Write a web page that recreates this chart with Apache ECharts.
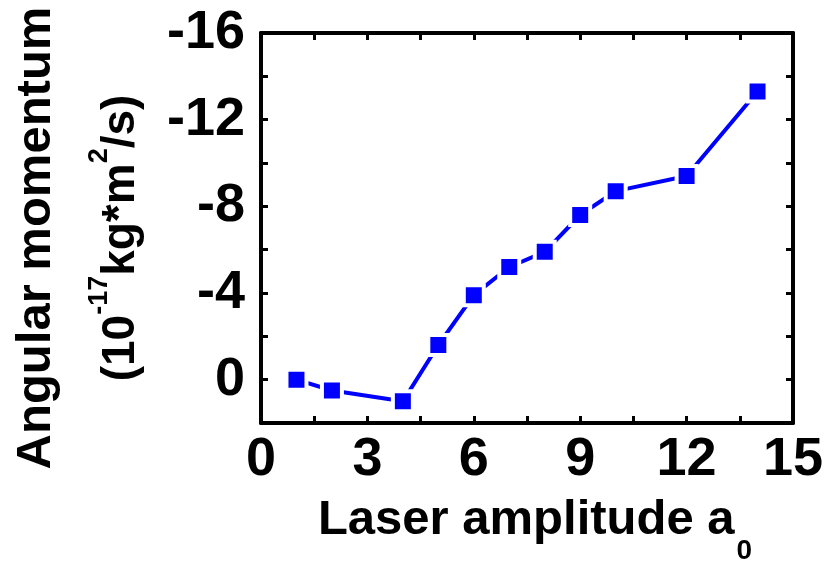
<!DOCTYPE html>
<html>
<head>
<meta charset="utf-8">
<script src="https://cdn.jsdelivr.net/npm/echarts@6/dist/echarts.min.js"></script>
<style>
  html, body { margin: 0; padding: 0; background: #fff; }
  #main { width: 827px; height: 562px; }
</style>
</head>
<body>
<div id="main"></div>
<script>
// laser amplitude a0 and angular momentum (10^-17 kg*m^2/s)
let amplitude = [1, 2, 4, 5, 6, 7, 8, 9, 10, 12, 14]
let momentum = [0, 0.5, 1.0, -1.6, -3.9, -5.2, -5.9, -7.6, -8.7, -9.4, -13.3]
let xTicks = [0, 3, 6, 9, 12, 15]
let yTicks = [-16, -12, -8, -4, 0]

let font = 'Liberation Sans'
let points = amplitude.map((a, i) => [a, momentum[i]])

let tickStyle = { show: true, inside: true, length: 7, lineStyle: { color: '#000', width: 3 } }
let lineStyle = { show: true, onZero: false, lineStyle: { color: '#000', width: 4 } }

let chart = echarts.init(document.getElementById('main'))
chart.setOption({
  animation: false,
  backgroundColor: '#fff',
  grid: { left: 261, right: 34, top: 33, bottom: 139, outerBoundsMode: 'none' },
  xAxis: [
    {
      type: 'value', min: 0, max: 15, interval: 1.5,
      axisLine: lineStyle, axisTick: tickStyle, splitLine: { show: false },
      axisLabel: {
        margin: 10, color: '#000', fontSize: 54, fontWeight: 'bold', fontFamily: font,
        formatter: v => xTicks.includes(v) ? String(v) : ''
      },
      name: '{m|Laser amplitude a}{b|0}',
      nameLocation: 'middle', nameGap: 73,
      nameTextStyle: {
        padding: [0, 0, 0, 16],
        rich: {
          m: { fontSize: 49, fontWeight: 'bold', fontFamily: font, color: '#000', verticalAlign: 'top' },
          b: { fontSize: 28, fontWeight: 'bold', fontFamily: font, color: '#000', verticalAlign: 'top', padding: [41, 0, 0, 2] }
        }
      }
    },
    {
      type: 'value', position: 'top', min: 0, max: 15, interval: 1.5,
      axisLine: lineStyle, axisTick: tickStyle, splitLine: { show: false }, axisLabel: { show: false }
    }
  ],
  yAxis: [
    {
      type: 'value', inverse: true, min: -16, max: 2, interval: 2,
      axisLine: lineStyle, axisTick: tickStyle, splitLine: { show: false },
      axisLabel: {
        margin: 16, color: '#000', fontSize: 54, fontWeight: 'bold', fontFamily: font,
        formatter: v => yTicks.includes(v) ? String(v) : ''
      },
      name: '{t|Angular momentum}\n{m|(10}{s|-17}{m|kg*m}{s|2}{m|/s)}',
      nameLocation: 'middle', nameGap: 117,
      nameTextStyle: {
        padding: [0, 20, 0, 0],
        rich: {
          t: { fontSize: 49, fontWeight: 'bold', fontFamily: font, color: '#000', lineHeight: 100 },
          m: { fontSize: 46, fontWeight: 'bold', fontFamily: font, color: '#000', verticalAlign: 'bottom' },
          s: { fontSize: 27, fontWeight: 'bold', fontFamily: font, color: '#000', verticalAlign: 'bottom', padding: [0, 0, 31, 0] }
        }
      }
    },
    {
      type: 'value', position: 'right', inverse: true, min: -16, max: 2, interval: 2,
      axisLine: lineStyle, axisTick: tickStyle, splitLine: { show: false }, axisLabel: { show: false }
    }
  ],
  series: [
    {
      type: 'line',
      data: points,
      symbol: 'rect',
      symbolSize: 20,
      lineStyle: { color: '#0000ff', width: 4 },
      itemStyle: { color: '#0000ff', borderColor: '#fff', borderWidth: 4 }
    }
  ]
})
</script>
</body>
</html>
